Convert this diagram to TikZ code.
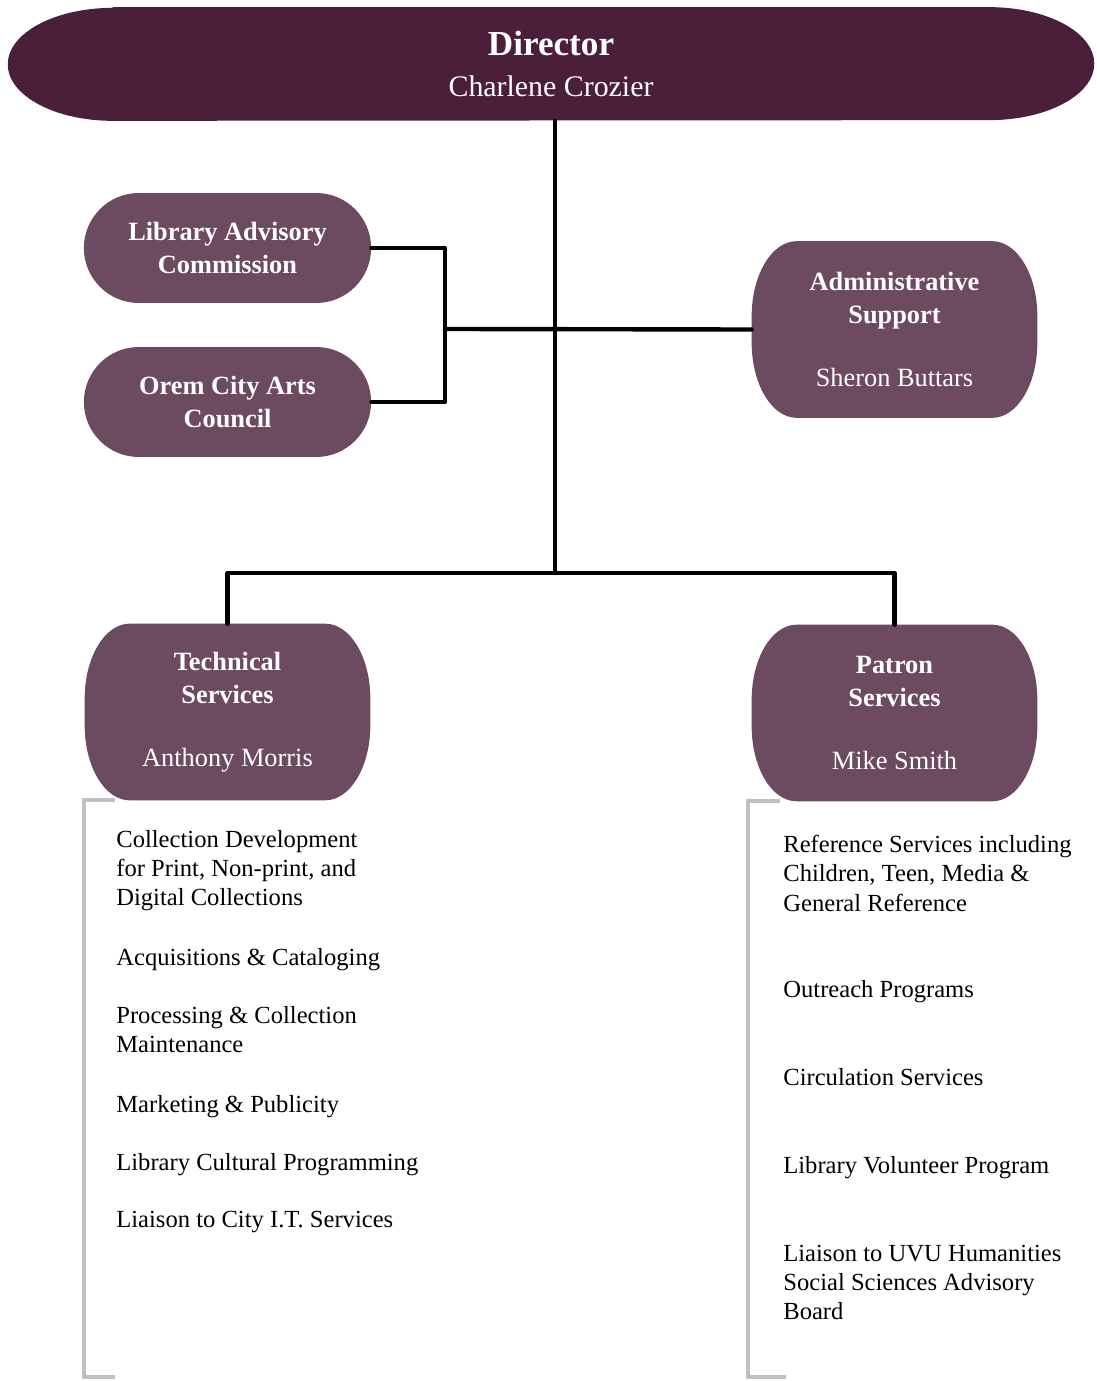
\documentclass[tikz,border=0pt]{standalone}
\usepackage{fontspec}
\setmainfont{Liberation Serif}
\usetikzlibrary{shapes.misc}
\definecolor{dirplum}{RGB}{75,30,58}
\definecolor{boxplum}{RGB}{108,74,96}
\definecolor{rulegray}{RGB}{196,190,196}
\pgfdeclarelayer{back}
\pgfsetlayers{back,main}
% box with oval corners behind a node
\newcommand\barrelfill[1]{%
	\fill[boxplum] ([xshift=0.9cm]#1.north west) -- ([xshift=-0.9cm]#1.north east)
		arc[start angle=90, end angle=0, x radius=0.9cm, y radius=1.5cm]
		-- ([yshift=1.5cm]#1.south east)
		arc[start angle=0, end angle=-90, x radius=0.9cm, y radius=1.5cm]
		-- ([xshift=0.9cm]#1.south west)
		arc[start angle=270, end angle=180, x radius=0.9cm, y radius=1.5cm]
		-- ([yshift=-1.5cm]#1.north west)
		arc[start angle=180, end angle=90, x radius=0.9cm, y radius=1.5cm] -- cycle;}

\begin{document}
\begin{tikzpicture}[x=0.02cm, y=-0.02cm, line join=round, line cap=round,
	dirhead/.style={minimum width=21.72cm, minimum height=2.26cm, inner sep=0pt, text=white, align=center, font=\fontsize{17}{23.5}\selectfont},
	pill/.style={rounded rectangle, fill=boxplum, text=white, minimum width=5.98cm, minimum height=2.2cm, align=center, font=\fontsize{15}{18.7}\selectfont\bfseries},
	unit/.style={rectangle, minimum width=5.7cm, minimum height=3.52cm, text=white, align=center, font=\fontsize{15}{18.7}\selectfont},
	wire/.style={line width=2.5pt, black},
	bracket/.style={line width=2.3pt, rulegray, line cap=butt},
	duty/.style={anchor=north west, inner sep=0pt, align=left, font=\fontsize{14}{16.6}\selectfont}]
	\useasboundingbox (0,0) rectangle (1096,1381);
	
	% head of the library
	\node[dirhead] (dir) at (551,64) {{\fontsize{20}{23.5}\selectfont\bfseries Director}\\Charlene Crozier};
	
	% boards and support
	\node[pill] (lac) at (227.5,248) {Library Advisory\\Commission};
	\node[pill] (arts) at (227.5,402) {Orem City Arts\\Council};
	\node[unit] (admin) at (894.5,329.5) {\textbf{Administrative}\\\textbf{Support}\\[17pt]Sheron Buttars};
	
	% divisions
	\node[unit] (tech) at (227.5,712) {\textbf{Technical}\\\textbf{Services}\\[17pt]Anthony Morris};
	\node[unit] (patron) at (894.5,713) {\textbf{Patron}\\\textbf{Services}\\[17pt]Mike Smith};
	
	\coordinate (split) at (555,573);
	\coordinate (join) at (445,329);
	\draw[wire] (split |- dir.south) -- (split);
	\draw[wire] (tech.north) |- (split) -| (patron.north);
	\draw[wire] (lac.east) -| (join) |- (arts.east);
	\draw[wire] (join) -- (admin.west);
	
	% duties of technical services
	\node[duty] (t1) at (116,830) {Collection Development\\for Print, Non-print, and\\Digital Collections};
	\node[duty] (t2) at (116,948) {Acquisitions \& Cataloging};
	\node[duty] (t3) at (116,1006) {Processing \& Collection\\Maintenance};
	\node[duty] (t4) at (116,1095) {Marketing \& Publicity};
	\node[duty] (t5) at (116,1153) {Library Cultural Programming};
	\node[duty] (t6) at (116,1211) {Liaison to City I.T. Services};
	
	% duties of patron services
	\node[duty] (p1) at (783,835) {Reference Services including\\Children, Teen, Media \&\\General Reference};
	\node[duty] (p2) at (783,980) {Outreach Programs};
	\node[duty] (p3) at (783,1068) {Circulation Services};
	\node[duty] (p4) at (783,1156) {Library Volunteer Program};
	\node[duty] (p5) at (783,1245) {Liaison to UVU Humanities\\Social Sciences Advisory\\Board};
	
	\begin{pgfonlayer}{back}
		\fill[dirplum] ([xshift=2.1cm]dir.north west) -- ([xshift=-2.1cm]dir.north east)
			arc[start angle=90, end angle=-90, x radius=2.1cm, y radius=1.13cm]
			-- ([xshift=2.1cm]dir.south west)
			arc[start angle=270, end angle=90, x radius=2.1cm, y radius=1.13cm] -- cycle;
		\barrelfill{admin}
		\barrelfill{tech}
		\barrelfill{patron}
		\draw[bracket] (tech.south west) ++(30,0) -| (84,1377) -- ++(31,0);
		\draw[bracket] (patron.south west) ++(28,0) -| (748,1377) -- ++(38,0);
	\end{pgfonlayer}
\end{tikzpicture}
\end{document}
